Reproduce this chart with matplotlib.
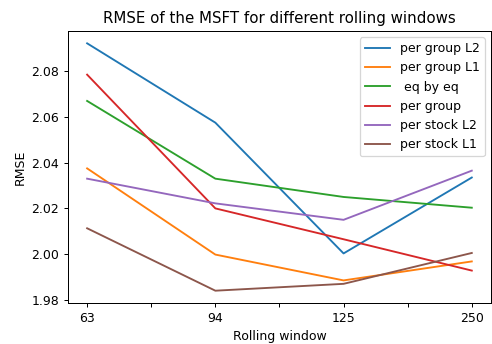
import numpy as np
import matplotlib
matplotlib.use("Agg")
import matplotlib.pyplot as plt

# rolling window sizes (categorical x axis)
windows = ["63", "94", "125", "250"]

# RMSE per model for each rolling window
per_group_l2 = [2.0922, 2.0575, 2.0003, 2.0335]
per_group_l1 = [2.0375, 1.9998, 1.9885, 1.9968]
eq_by_eq = [2.0670, 2.0330, 2.0250, 2.0203]
per_group = [2.0785, 2.0200, 2.0065, 1.9928]
per_stock_l2 = [2.0330, 2.0222, 2.0150, 2.0365]
per_stock_l1 = [2.0113, 1.9840, 1.9870, 2.0005]

series = [
    ("per group L2", per_group_l2),
    ("per group L1", per_group_l1),
    (" eq by eq", eq_by_eq),
    ("per group", per_group),
    ("per stock L2", per_stock_l2),
    ("per stock L1", per_stock_l1),
]

DPI = 90
fig = plt.figure(figsize=(492 / DPI, 344 / DPI), dpi=DPI)
ax = fig.add_axes([0.138, 0.119, 0.860, 0.791])

x = np.arange(len(windows))
for label, values in series:
    ax.plot(x, values, label=label, linewidth=1.5)

ticks = np.arange(0, len(windows) - 0.99, 0.5)
tick_labels = []
for t in ticks:
    tick_labels.append(windows[int(t)] if t == int(t) else "")
ax.set_xticks(ticks)
ax.set_xticklabels(tick_labels)

yticks = [1.98, 2.00, 2.02, 2.04, 2.06, 2.08]
ax.set_yticks(yticks)
ax.set_yticklabels([f"{v:.2f}" for v in yticks])

ax.set_title("RMSE of the MSFT for different rolling windows", fontsize=12)
ax.set_xlabel("Rolling window", fontsize=10)
ax.set_ylabel("RMSE", fontsize=10)
ax.tick_params(labelsize=10)
ax.legend(loc="upper right", fontsize=10)

fig.savefig("out.png", dpi=DPI)
